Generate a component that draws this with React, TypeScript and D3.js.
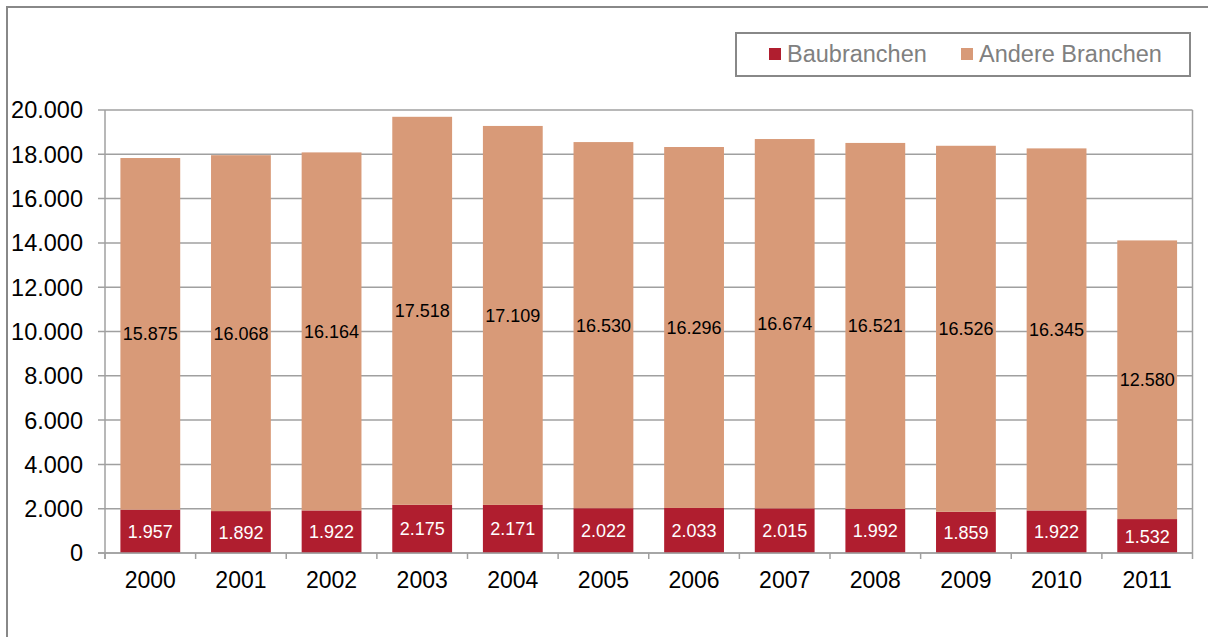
import React from "react";
import * as d3 from "d3";

const years = ["2000","2001","2002","2003","2004","2005","2006","2007","2008","2009","2010","2011"];
const bau = [1957, 1892, 1922, 2175, 2171, 2022, 2033, 2015, 1992, 1859, 1922, 1532];
const andere = [15875, 16068, 16164, 17518, 17109, 16530, 16296, 16674, 16521, 16526, 16345, 12580];
const yTicks = [0, 2000, 4000, 6000, 8000, 10000, 12000, 14000, 16000, 18000, 20000];
const seriesNames = ["Baubranchen", "Andere Branchen"];

const C_BAU = "#B01E2F";
const C_AND = "#D89A78";
const GRID = "#A0A0A0";
const FONT = "'Liberation Sans', Arial, sans-serif";

const fmt = (v: number) => {
  const s = String(v);
  return s.replace(/\B(?=(\d{3})+(?!\d))/g, ".");
};

export default function App() {
  const left = 105, right = 1192.5, top = 110, bottom = 553;
  const x = d3.scaleBand<string>().domain(years).range([left, right]).paddingInner(0.34).paddingOuter(0.17);
  const xb = d3.scaleBand<string>().domain(years).range([left, right]).padding(0);
  const y = d3.scaleLinear().domain([0, 20000]).range([bottom, top]);
  const bw = x.bandwidth();

  return (
    <svg width={1208} height={637} style={{ position: "absolute", left: 0, top: 0, fontFamily: FONT }}>
      <rect x={0} y={0} width={1208} height={637} fill="#fff" />
      <rect x={7} y={7} width={1220} height={650} fill="none" stroke="#888" strokeWidth={2} />
      {/* gridlines */}
      {yTicks.map((t) => (
        <line key={"g" + t} x1={98} x2={right} y1={y(t)} y2={y(t)} stroke={GRID} strokeWidth={1.5} />
      ))}
      <line x1={left} x2={left} y1={top} y2={bottom + 6} stroke={GRID} strokeWidth={1.5} />
      <line x1={right} x2={right} y1={top} y2={bottom + 6} stroke={GRID} strokeWidth={1.5} />
      {years.map((yr) => (
        <line key={"xt" + yr} x1={xb(yr)!} x2={xb(yr)!} y1={bottom} y2={bottom + 6} stroke={GRID} strokeWidth={1.5} />
      ))}
      {/* bars */}
      {years.map((yr, i) => (
        <g key={"b" + yr}>
          <rect x={x(yr)!} width={bw} y={y(bau[i])} height={y(0) - y(bau[i])} fill={C_BAU} />
          <rect x={x(yr)!} width={bw} y={y(bau[i] + andere[i])} height={y(bau[i]) - y(bau[i] + andere[i])} fill={C_AND} />
          <text x={x(yr)! + bw / 2} y={y(bau[i] / 2)} dy="0.36em" textAnchor="middle" fontSize={18} fill="#fff">{fmt(bau[i])}</text>
          <text x={x(yr)! + bw / 2} y={y(bau[i] + andere[i] / 2)} dy="0.36em" textAnchor="middle" fontSize={18} fill="#000">{fmt(andere[i])}</text>
        </g>
      ))}
      {/* baseline */}
      <line x1={98} x2={right} y1={bottom} y2={bottom} stroke={GRID} strokeWidth={1.5} />
      {/* y labels */}
      {yTicks.map((t) => (
        <text key={"yl" + t} x={83} y={y(t)} dy="0.36em" textAnchor="end" fontSize={23.5} fill="#000">{fmt(t)}</text>
      ))}
      {/* x labels */}
      {years.map((yr) => (
        <text key={"xl" + yr} x={x(yr)! + bw / 2} y={588} textAnchor="middle" fontSize={23} fill="#000">{yr}</text>
      ))}
      {/* legend */}
      <rect x={736} y={33} width={454} height={43} fill="#fff" stroke="#888" strokeWidth={2} />
      <rect x={769} y={48} width={12} height={12} fill={C_BAU} />
      <text x={787} y={62} fontSize={23.5} fill="#808080">{seriesNames[0]}</text>
      <rect x={961} y={48} width={12} height={12} fill={C_AND} />
      <text x={979} y={62} fontSize={23.5} fill="#808080">{seriesNames[1]}</text>
    </svg>
  );
}
